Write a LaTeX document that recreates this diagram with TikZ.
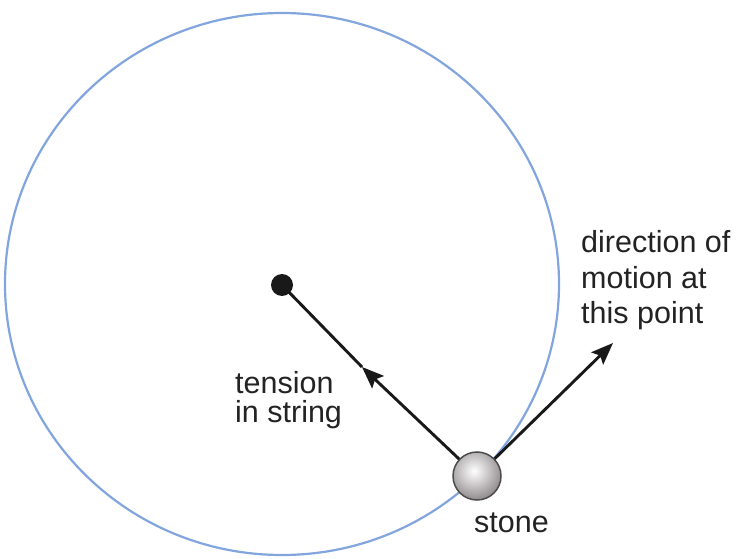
\documentclass[tikz,border=0pt]{standalone}
\usepackage{fontspec}
\setmainfont{Liberation Sans}
\usetikzlibrary{arrows.meta}
\definecolor{orbit}{RGB}{130,165,222}
\definecolor{txt}{RGB}{35,35,35}
\definecolor{stonerim}{RGB}{140,134,136}
\tikzset{
  vec/.style={line width=2.9pt, black!90, -{Stealth[length=22pt,width=17pt,inset=4pt]}},
  strg/.style={line width=2.9pt, black!90},
  lbl/.style={text=txt, font=\fontsize{30.5}{30}\selectfont, align=left, inner sep=0pt, anchor=base west},
}
\begin{document}
\begin{tikzpicture}[x=1pt,y=-1pt]
\useasboundingbox[fill=white] (0,0) rectangle (745,559);
\draw[orbit, line width=2.2pt] (282,284) ellipse [x radius=277pt, y radius=271pt];
\node[circle, fill=black!90, minimum size=22pt, inner sep=0pt] (dot) at (282,285) {};
\coordinate (tip) at (362,367);
\coordinate (mtip) at (613,343);
\node[circle, minimum size=48pt, inner sep=0pt] (stone) at (477,476) {};
\draw[vec] (stone.center) -- (tip);
\draw[strg] (tip) -- (dot.center);
\draw[vec] (stone.center) -- (mtip);
\begin{scope}
  \clip (stone.center) circle (24pt);
  \shade[inner color=white, outer color=stonerim] ([xshift=-3pt,yshift=5pt]stone.center) circle (30pt);
\end{scope}
\draw[black!70, line width=1.5pt] (stone.center) circle (24pt);
\node[lbl] (tens) at (235,393) {tension};
\node[lbl] (tens2) at (235,422) {in string};
\node[lbl] (dir1) at (581,252) {direction of};
\node[lbl] (dir2) at (581,288) {motion at};
\node[lbl] (dir3) at (581,323) {this point};
\node[lbl] (st) at (474,532) {stone};
\end{tikzpicture}
\end{document}
